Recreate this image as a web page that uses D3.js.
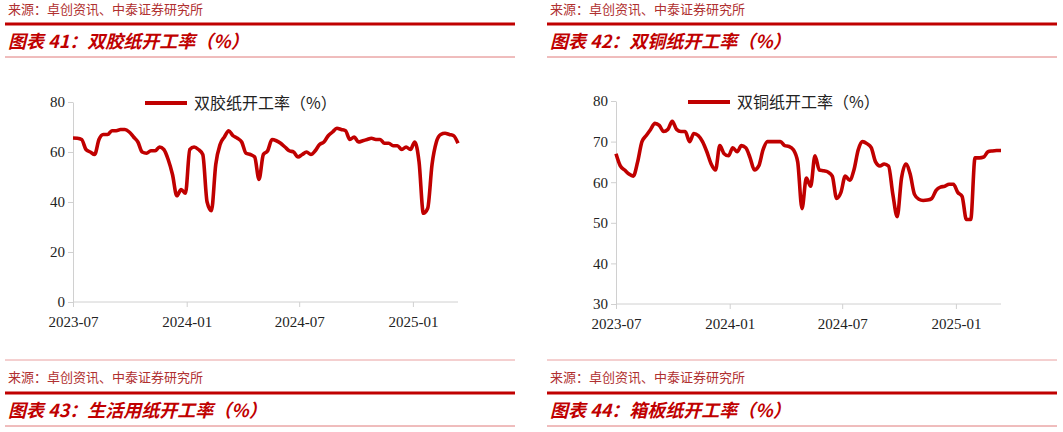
<!DOCTYPE html>
<html><head><meta charset="utf-8">
<script src="https://cdn.jsdelivr.net/npm/d3@7"></script>
<style>body{margin:0;background:#fff}</style>
</head><body>
<svg id="c" width="1063" height="432"></svg>
<script>
// weekly readings, starting 2023-07-01
var startDate = new Date(2023, 6, 1);
var doubleOffset = [65.6,65.5,65,61,60,59,65,67,67,68.5,68.5,69,69,68,66,64,60,59.5,60.5,60.5,
  62,61,57,51,42.5,45,43.5,61,62,61,59,40,36.5,55,63,66,68.5,66.5,65.5,64,
  59.5,59,58,49,59,60.5,65,64.5,63.5,62,60.5,60,58,59,60,59,60.5,63,64,66.5,
  68,69.5,69,68.5,65,66,64,64.5,65,65.5,65,65,63.5,63.5,62.5,62.5,61,62,61,64,
  56,35.5,37.5,55,64,67,67.5,67,66.5,63.5];
var doubleCoated = [67,64,63,62,61.5,65,70,71.5,73,74.5,74,72.5,73,75,73,72.5,72.5,70,72,71.5,
  70,67.5,64.5,63,69,67,66.5,68.5,67.5,69,68.5,66,63,64,68,70,70,70,70,69,
  68.8,68,65,53.5,61,59,66.5,63,62.8,62.5,61.5,56,57.5,61.5,60.5,63,68,70,69.5,68.5,
  65,64,64.5,64,57,51.5,61,64.5,62,57,55.8,55.5,55.6,56,58,58.8,59,59.5,59.5,57.5,
  56.5,50.8,50.8,66,66,66.2,67.5,67.7,67.8,67.8];
var tickLabels = ['2023-07', '2024-01', '2024-07', '2025-01'];

var red = '#c00000';
var svg = d3.select('#c');
var cjk = '"Noto Sans CJK SC", sans-serif';

function header(x0, w, y, title, withSource) {
  if (withSource) {
    svg.append('line').attr('x1', x0).attr('x2', x0 + w).attr('y1', y - 33).attr('y2', y - 33)
      .attr('stroke', '#eaa0a0').attr('stroke-width', 1);
    svg.append('text').attr('x', x0 + 3).attr('y', y - 11).text('来源：卓创资讯、中泰证券研究所')
      .attr('font-family', cjk).attr('font-size', 13).attr('fill', '#b03030');
  }
  svg.append('line').attr('x1', x0).attr('x2', x0 + w).attr('y1', y).attr('y2', y)
    .attr('stroke', red).attr('stroke-width', 3);
  svg.append('text').attr('x', x0 + 3).attr('y', y + 24).text(title)
    .attr('font-family', cjk).attr('font-size', 18).attr('font-weight', 'bold')
    .attr('font-style', 'italic').attr('fill', red);
  svg.append('line').attr('x1', x0).attr('x2', x0 + w).attr('y1', y + 33).attr('y2', y + 33)
    .attr('stroke', '#e07a7a').attr('stroke-width', 1);
}

function chart(opts) {
  var dates = opts.values.map(function(v, i) { return d3.timeDay.offset(startDate, 7 * i); });
  var x = d3.scaleTime()
    .domain([startDate, dates[dates.length - 1]])
    .range([opts.left, opts.right]);
  var y = d3.scaleLinear().domain(opts.yDomain).range([opts.bottom, opts.top]);
  var g = svg.append('g');

  var tickDates = tickLabels.map(function(s) { return d3.timeParse('%Y-%m')(s); });
  var xa = g.append('g').attr('transform', 'translate(0,' + opts.bottom + ')')
    .call(d3.axisBottom(x).tickValues(tickDates).tickFormat(d3.timeFormat('%Y-%m')).tickSize(5).tickSizeOuter(0));
  var ya = g.append('g').attr('transform', 'translate(' + opts.left + ',0)')
    .call(d3.axisLeft(y).tickValues(opts.yTicks).tickSize(5).tickSizeOuter(0));
  [xa, ya].forEach(function(a) {
    a.selectAll('path,line').attr('stroke', '#d0d0d0');
    a.selectAll('text').attr('font-family', '"Liberation Serif", serif').attr('font-size', 15).attr('fill', '#222');
  });
  xa.selectAll('text').attr('dy', '1.1em');
  xa.select('.domain').attr('d', 'M' + opts.left + ',0H' + opts.right);

  g.append('path').datum(opts.values)
    .attr('fill', 'none').attr('stroke', red).attr('stroke-width', 3.6)
    .attr('stroke-linejoin', 'round')
    .attr('d', d3.line().x(function(d, i) { return x(dates[i]); }).y(function(d) { return y(d); })
      .curve(d3.curveMonotoneX));

  // legend
  g.append('line').attr('x1', opts.legendX).attr('x2', opts.legendX + 42)
    .attr('y1', opts.top + 1).attr('y2', opts.top + 1).attr('stroke', red).attr('stroke-width', 4);
  g.append('text').attr('x', opts.legendX + 49).attr('y', opts.top + 7).text(opts.name)
    .attr('font-family', cjk).attr('font-size', 16).attr('fill', '#222');
}

header(5, 510, 24, '图表 41：双胶纸开工率（%）', false);
header(547, 510, 24, '图表 42：双铜纸开工率（%）', false);
header(5, 510, 393, '图表 43：生活用纸开工率（%）', true);
header(547, 510, 393, '图表 44：箱板纸开工率（%）', true);
['来源：卓创资讯、中泰证券研究所'].forEach(function(s) {
  svg.append('text').attr('x', 8).attr('y', 14).text(s).attr('font-family', cjk).attr('font-size', 13).attr('fill', '#b03030');
  svg.append('text').attr('x', 550).attr('y', 14).text(s).attr('font-family', cjk).attr('font-size', 13).attr('fill', '#b03030');
});

chart({values: doubleOffset, left: 73, right: 458, top: 102, bottom: 302,
  yDomain: [0, 80], yTicks: [0, 20, 40, 60, 80], legendX: 145, name: '双胶纸开工率（%）'});
chart({values: doubleCoated, left: 616, right: 1001, top: 101, bottom: 304,
  yDomain: [30, 80], yTicks: [30, 40, 50, 60, 70, 80], legendX: 688, name: '双铜纸开工率（%）'});
</script>
</body></html>
